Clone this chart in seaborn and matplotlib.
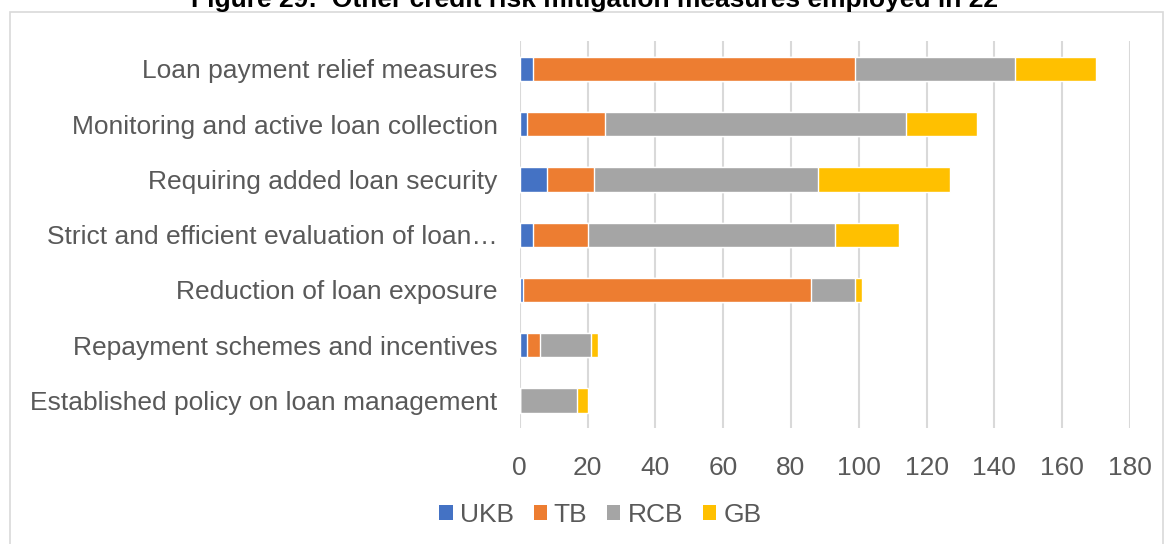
import pandas as pd
import seaborn as sns
import matplotlib.pyplot as plt
from matplotlib.patches import Rectangle, Patch

# Chart data
measures = [
    'Loan payment relief measures',
    'Monitoring and active loan collection',
    'Requiring added loan security',
    'Strict and efficient evaluation of loan\u2026',
    'Reduction of loan exposure',
    'Repayment schemes and incentives',
    'Established policy on loan management',
]
ukb = [4, 2, 8, 4, 1, 2, 0]
tb = [95, 23, 14, 16, 85, 4, 0]
rcb = [47, 89, 66, 73, 13, 15, 17]
gb = [24, 21, 39, 19, 2, 2, 3]

series = ['UKB', 'TB', 'RCB', 'GB']
colors = ['#4472C4', '#ED7D31', '#A5A5A5', '#FFC000']

df = pd.DataFrame({'measure': measures, 'UKB': ukb, 'TB': tb, 'RCB': rcb, 'GB': gb})
cum = df[series].cumsum(axis=1)
cum['measure'] = df['measure']

sns.set_style('white')
plt.rcParams['font.family'] = ['Liberation Sans', 'DejaVu Sans']
text_col = '#595959'

fig = plt.figure(figsize=(11.68, 5.44), dpi=100)
ax = fig.add_axes([0.445, 0.213, 0.5225, 0.711])

# stacked bars: draw cumulative totals from the outermost series inwards
for name, col in reversed(list(zip(series, colors))):
    sns.barplot(data=cum, x=name, y='measure', color=col, orient='h',
                width=0.44, saturation=1, ax=ax, zorder=3)

ax.set_xlim(0, 180)
ax.set_ylim(6.5, -0.5)
ax.set_xticks(range(0, 181, 20))
ax.xaxis.grid(True, color='#D9D9D9', linewidth=1.5, zorder=0)
ax.set_axisbelow(True)
for s in ax.spines.values():
    s.set_visible(False)
ax.set_xlabel('')
ax.set_ylabel('')
ax.tick_params(axis='both', length=0, labelsize=19, labelcolor=text_col)
ax.tick_params(axis='y', pad=16)
ax.tick_params(axis='x', pad=20)

# outer chart frame
fig.patches.append(Rectangle((10 / 1168, -0.05), 1153 / 1168, 1 - 12 / 544 + 0.05,
                             transform=fig.transFigure, fill=False,
                             edgecolor='#D9D9D9', linewidth=1.2))

# title sits mostly above the frame, as in the source picture
fig.text(0.509, 1 - 7 / 544, 'Figure 29:  Other credit risk mitigation measures employed in 22',
         ha='center', va='baseline', fontsize=19, fontweight='bold', color='#000000')

handles = [Patch(facecolor=c, edgecolor='none') for c in colors]
fig.legend(handles, series, loc='center', bbox_to_anchor=(0.514, 0.053), ncol=4,
           frameon=False, fontsize=19, labelcolor=text_col, handlelength=0.5,
           handleheight=0.5, handletextpad=0.27, columnspacing=0.75)

fig.savefig('out.png', dpi=100)
